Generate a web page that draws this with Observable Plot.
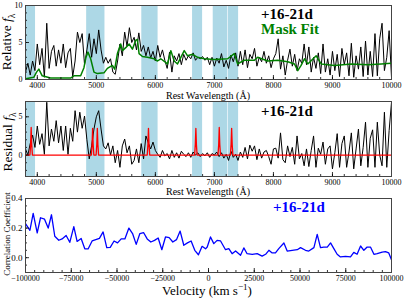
<!DOCTYPE html>
<html><head><meta charset="utf-8">
<script src="https://cdn.jsdelivr.net/npm/d3@7"></script>
<script src="https://cdn.jsdelivr.net/npm/@observablehq/plot@0.6"></script>
<style>
body{margin:0;background:#fff;}
#chart{position:relative;width:407px;height:300px;overflow:hidden;font-family:"Liberation Serif","Times New Roman",serif;background:#fff;}
#chart svg{position:absolute;left:0;}
.lab{position:absolute;white-space:nowrap;color:#000;line-height:1;}
.rot{transform:translate(-50%,-50%) rotate(-90deg);}
.ctr{transform:translate(-50%,-50%);}
.tag{font-weight:bold;font-size:15px;}
</style></head><body><div id="chart"></div>
<script>
// ---------- data ----------
const wlStart = 3800, wlStep = 40;
const relFlux = [1.0,2.2,0.6,2.5,1.2,4.8,2.0,4.2,0.3,7.6,
 1.5,3.8,4.6,1.8,4.0,2.2,4.8,1.6,3.6,4.2,
 0.4,2.5,6.4,5.0,6.2,2.0,4.0,6.2,3.0,5.5,
 3.5,6.7,4.0,2.2,3.0,2.2,2.8,1.0,0.7,2.5,
 4.8,3.2,6.4,4.5,7.0,5.0,5.7,4.0,6.3,3.8,
 4.6,3.2,4.4,2.9,3.8,2.5,4.6,3.0,4.0,2.6,
 1.5,3.7,1.0,3.2,2.5,3.5,2.0,3.4,2.6,3.2,
 2.8,3.6,2.6,3.0,2.8,3.1,2.6,3.0,2.0,3.0,
 1.8,2.9,2.2,3.5,1.7,2.6,1.5,3.3,2.4,3.6,
 1.8,3.8,2.0,4.0,1.6,3.4,2.8,4.2,1.8,3.0,
 2.4,3.8,2.2,3.2,1.6,2.8,3.5,5.5,1.4,3.2,
 0.6,2.6,4.1,1.8,3.4,1.2,2.8,2.2,4.8,2.0,
 4.4,1.0,3.0,1.5,3.6,0.8,4.8,1.0,2.8,0.6,
 3.8,1.2,3.4,0.4,4.2,2.0,3.6,0.5,4.9,0.3,
 3.2,1.4,4.4,0.4,5.2,0.6,3.8,0.4,6.2,0.5,
 5.5,7.6,1.2,3.0,6.6,0.3];
const fitWl = [3800,3940,3987,4026,4083,4225,4564,4620,4734,4790,4824,4858,4904,4960,5017,5130,5187,5272,5311,5357,5413,5442,5498,5555,5611,5668,5696,5724,5781,5866,5979,6036,6092,6206,6262,6319,6375,6432,6489,6545,6630,6715,6828,7000,7224,7337,7394,7507,7677,7733,7903,8073,8243,8356,8412,8469,8526,8582,8724,8809,9035,9318,9601,9827,10000];
const fitFlux = [0.1,0.3,1.0,1.4,0.5,0.2,0.2,0.5,0.5,1.6,3.0,3.7,2.8,1.0,0.8,0.9,1.5,1.9,1.4,3.5,4.8,3.9,4.3,4.8,4.1,5.3,5.4,3.5,3.1,3.0,2.8,2.5,2.8,2.1,3.9,2.5,2.1,3.0,3.9,3.2,3.4,3.0,2.8,2.7,2.8,3.5,2.1,2.6,2.6,3.0,2.5,2.6,2.4,2.1,1.2,1.9,2.8,2.1,3.2,2.1,1.9,2.1,2.0,2.1,2.2];
const residFlux = [0.8,0.0,1.5,2.6,1.0,3.8,1.4,2.8,0.1,6.9,
 1.2,3.4,1.8,4.5,1.6,3.8,0.6,3.8,0.1,3.5,
 1.8,5.8,3.0,5.6,3.5,5.1,2.0,-0.5,1.2,3.4,
 5.0,5.8,3.4,1.2,0.8,1.6,0.0,1.2,-1.0,0.6,
 -1.6,1.2,2.1,0.3,1.2,-1.2,-0.7,0.8,-1.0,1.5,
 -0.5,2.5,1.6,0.8,1.7,0.6,0.1,-0.3,0.6,-0.1,
 0.2,-0.5,0.6,-0.3,0.3,-0.4,0.5,0.1,-0.2,0.3,
 -0.3,0.4,0.0,0.3,-0.2,0.2,-0.1,0.3,-0.3,0.2,
 0.0,0.4,-0.2,0.3,-0.4,0.1,-0.7,0.5,-0.3,0.1,
 -0.7,0.4,-0.3,1.0,-0.5,1.3,0.5,1.2,-0.6,0.8,
 -0.4,0.4,0.6,-0.2,-1.2,0.8,0.9,-0.4,2.9,-0.6,
 -1.0,1.2,-0.2,1.0,-1.2,2.5,-0.5,0.2,-1.4,0.8,
 -1.5,0.6,2.5,-1.6,0.9,0.1,1.7,-1.2,0.8,1.2,
 -1.8,0.3,2.8,-1.6,1.5,2.5,-1.6,0.4,2.9,-1.8,
 0.8,3.4,-1.4,1.0,4.3,-1.6,2.2,3.3,-1.6,4.3,
 0.0,-1.4,5.6,-1.6,3.2,6.9];
const lineWl = [3800,3875,3887,3896,3905,3917,4916,4928,4937,4946,4958,4996,5008,5017,5026,5038,5862,5874,5883,5892,5904,6665,6677,6686,6695,6707,7061,7073,7082,7091,7103,7271,7283,7292,7301,7313,10000];
const lineFlux = [0,0,1.4,3.6,1.4,0,0,1.4,3.5,1.4,0,0,1.4,3.5,1.4,0,0,1.4,3.5,1.4,0,0,1.4,3.5,1.4,0,0,1.4,3.6,1.4,0,0,1.4,3.5,1.4,0,0];
const maskStart = [3800,4836,5770,6630,6980,7235];
const maskEnd   = [3970,5146,6046,6800,7225,7410];
const vel = [-100000,-97600,-95800,-93600,-91800,-89600,-87600,-85800,-84000,-81800,-80000,-77800,-75800,-73600,-71800,-69600,-67600,-65800,-63600,-61600,-59600,-57600,-55600,-53700,-51600,-49700,-47700,-45700,-43500,-41500,-39500,-37500,-35500,-33500,-31500,-29500,-27500,-25500,-23500,-21500,-19500,-17500,-15500,-13500,-11500,-9500,-7500,-5500,-3500,-1600,-700,1100,2900,4700,6600,9300,11100,12900,14800,17500,19300,21100,23900,26600,29300,31200,33000,34800,36600,38400,41200,43000,45700,48500,50300,53000,54800,57600,59400,61200,63000,64900,66700,68500,70300,72100,74900,77600,79400,81200,83100,84900,86700,88500,90400,92200,94900,96700,98500,100000];
const corr = [0.23,0.185,0.30,0.167,0.27,0.26,0.20,0.29,0.145,0.118,0.127,0.15,0.104,0.21,0.11,0.13,0.06,0.059,0.113,0.122,0.131,0.174,0.068,0.07,0.113,0.10,0.127,0.127,0.20,0.163,0.09,0.163,0.17,0.127,0.106,0.117,0.133,0.054,0.14,0.136,0.106,0.122,0.18,0.084,0.10,0.113,0.05,0.02,0.077,0.06,0.072,0.14,0.095,0.117,0.113,0.054,0.061,0.027,0.045,0.016,0.066,0.027,0.023,0.027,0.011,0.023,0.05,0.032,0.032,0.061,0.099,0.045,0.05,0.054,0.068,0.05,0.045,0.068,0.158,0.068,0.072,0.072,0.10,0.061,0.023,0.005,0.009,0.005,0.036,0.023,0.079,0.05,0.072,0.072,0.023,0.027,0.038,0.041,0.032,-0.014];
const wlTicks = [4000,5000,6000,7000,8000,9000,10000];
const relTicks = [0,5,10];
const resTicks = [0,5];
const velTicks = [-100000,-75000,-50000,-25000,0,25000,50000,75000,100000];
const corrTicks = [0.0,0.2,0.4];

// ---------- tables ----------
const wlGrid = relFlux.map((_, i) => wlStart + i * wlStep);
const relData = relFlux.map((f, i) => ({wl: wlGrid[i], f}));
const resData = residFlux.map((f, i) => ({wl: wlGrid[i], f}));
const fitData = fitWl.map((wl, i) => ({wl, f: fitFlux[i]}));
const lineData = lineWl.map((wl, i) => ({wl, f: lineFlux[i]}));
const maskData = maskStart.map((s, i) => ({x1: s, x2: maskEnd[i]}));
const corrData = vel.map((v, i) => ({v, c: corr[i]}));

const FONT = '"Liberation Serif","Times New Roman",serif';
const W = 407, ML = 25, MR = 16;
const minus = d => d < 0 ? "\u2212" + Math.abs(d) : String(d);

function panel({top, height, mt, mb, xDomain, yDomain, xMajor, xMinor, yMajor, yMinor, xFmt, yFmt, yFont, marks}) {
  const ph = height - mt - mb, pw = W - ML - MR;
  const svg = Plot.plot({
    width: W, height, marginTop: mt, marginBottom: mb, marginLeft: ML, marginRight: MR,
    x: {domain: xDomain}, y: {domain: yDomain},
    style: {fontFamily: FONT, fontSize: "8px", background: "transparent", color: "#000", overflow: "visible"},
    marks: [
      ...marks,
      Plot.tickX(xMinor, {x: d => d, insetTop: ph - 2, stroke: "#000", strokeWidth: 0.8}),
      Plot.tickX(xMajor, {x: d => d, insetTop: ph - 4, stroke: "#000", strokeWidth: 0.8}),
      Plot.tickY(yMinor, {y: d => d, insetRight: pw - 2, stroke: "#000", strokeWidth: 0.8}),
      Plot.tickY(yMajor, {y: d => d, insetRight: pw - 4, stroke: "#000", strokeWidth: 0.8}),
      Plot.axisX(xMajor, {tickSize: 0, tickPadding: 3, tickFormat: xFmt, label: null}),
      Plot.axisY(yMajor, {tickSize: 0, tickPadding: 3, tickFormat: yFmt, label: null, fontSize: yFont}),
      Plot.frame({stroke: "#444", strokeWidth: 1})
    ]
  });
  svg.style.top = top + "px";
  return svg;
}

const chart = document.getElementById("chart");
const wlMinor = d3.range(3800, 10001, 200);

chart.append(panel({
  top: 0, height: 98, mt: 5, mb: 19,
  xDomain: [3800, 10000], yDomain: [0, 10],
  xMajor: wlTicks, xMinor: wlMinor, yMajor: relTicks, yMinor: d3.range(0, 11, 1),
  xFmt: d => String(d), yFmt: d => String(d), yFont: 8,
  marks: [
    Plot.rect(maskData, {x1: "x1", x2: "x2", fill: "#add8e6"}),
    Plot.line(relData, {x: "wl", y: "f", stroke: "#000", strokeWidth: 1, clip: true}),
    Plot.line(fitData, {x: "wl", y: "f", stroke: "#008000", strokeWidth: 1.5, clip: true})
  ]
}));

chart.append(panel({
  top: 98, height: 97, mt: 3, mb: 19,
  xDomain: [3800, 10000], yDomain: [-2.8, 7],
  xMajor: wlTicks, xMinor: wlMinor, yMajor: resTicks, yMinor: d3.range(-2, 8, 1),
  xFmt: d => String(d), yFmt: d => String(d), yFont: 8,
  marks: [
    Plot.rect(maskData, {x1: "x1", x2: "x2", fill: "#add8e6"}),
    Plot.line(resData, {x: "wl", y: "f", stroke: "#000", strokeWidth: 1, clip: true}),
    Plot.line(lineData, {x: "wl", y: "f", stroke: "#ff0000", strokeWidth: 1.3, clip: true})
  ]
}));

chart.append(panel({
  top: 195, height: 105, mt: 3, mb: 28,
  xDomain: [-100000, 100000], yDomain: [-0.1, 0.4],
  xMajor: velTicks, xMinor: d3.range(-100000, 100001, 5000), yMajor: corrTicks, yMinor: d3.range(-0.1, 0.41, 0.05),
  xFmt: minus, yFmt: d => d.toFixed(1), yFont: 9,
  marks: [
    Plot.line(corrData, {x: "v", y: "c", stroke: "#0000ff", strokeWidth: 1.3, clip: true})
  ]
}));

// ---------- text overlays ----------
function lab(html, x, y, cls, style) {
  const d = document.createElement("div");
  d.className = "lab " + cls;
  d.innerHTML = html;
  d.style.left = x + "px"; d.style.top = y + "px";
  Object.assign(d.style, style || {});
  chart.append(d);
}
lab("Relative <i>f</i><sub style='font-size:70%'>\u03BB</sub>", 9, 42, "rot", {fontSize: "13.5px"});
lab("Residual <i>f</i><sub style='font-size:70%'>\u03BB</sub>", 10, 142, "rot", {fontSize: "13.5px"});
lab("Correlation Coefficient", 7, 234, "rot", {fontSize: "9px"});
lab("Rest Wavelength (\u00C5)", 208, 96, "ctr", {fontSize: "10px"});
lab("Rest Wavelength (\u00C5)", 208, 192, "ctr", {fontSize: "10px"});
lab("Velocity (km s<sup style='font-size:70%'>\u22121</sup>)", 207, 290, "ctr", {fontSize: "13px"});
lab("+16-21d", 261, 7, "tag", {});
lab("Mask Fit", 261, 22, "tag", {color: "#008000"});
lab("+16-21d", 261, 104, "tag", {});
lab("+16-21d", 273, 200, "tag", {color: "#0000ff"});
</script></body></html>
